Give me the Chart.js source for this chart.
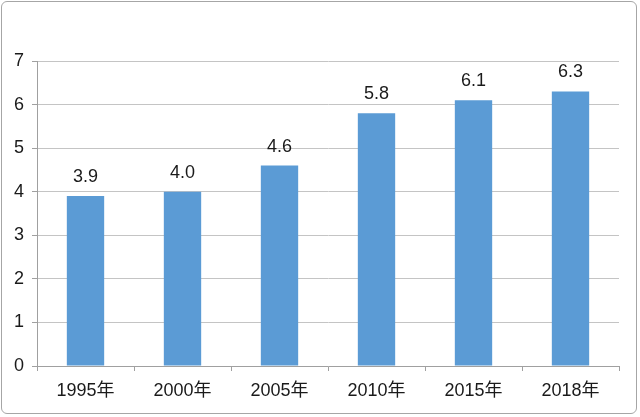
<!DOCTYPE html>
<html><head><meta charset="utf-8">
<script src="https://cdn.jsdelivr.net/npm/chart.js@4"></script>
<style>
html,body{margin:0;padding:0;background:#fff;}
#wrap{position:relative;width:640px;height:417px;}
#frame{position:absolute;left:1px;top:1px;width:636px;height:413px;border:1px solid #a6a6a6;border-radius:6px;pointer-events:none;box-sizing:border-box;}
</style></head><body>
<div id="wrap"><canvas id="c" width="640" height="417"></canvas><div id="frame"></div></div>
<script>
const categories = ['1995年','2000年','2005年','2010年','2015年','2018年'];
const values = [3.9, 4.0, 4.6, 5.8, 6.1, 6.3];
const yTicks = [0,1,2,3,4,5,6,7];

const FONT = '"Liberation Sans", Arial, "Noto Sans CJK SC", sans-serif';

const labelPlugin = {
  id: 'valLabels',
  afterDatasetsDraw(chart){
    const ctx = chart.ctx;
    const meta = chart.getDatasetMeta(0);
    ctx.save();
    ctx.font = '18px ' + FONT;
    ctx.fillStyle = '#1a1a1a';
    ctx.textAlign = 'center';
    ctx.textBaseline = 'middle';
    meta.data.forEach((bar, i) => {
      ctx.fillText(values[i].toFixed(1), bar.x, bar.y - 19);
    });
    ctx.restore();
  }
};

new Chart(document.getElementById('c'), {
  type: 'bar',
  data: {
    labels: categories,
    datasets: [{
      data: values,
      backgroundColor: '#5B9BD5',
      borderWidth: 0,
      categoryPercentage: 1,
      barPercentage: 0.385
    }]
  },
  options: {
    responsive: false,
    animation: false,
    events: [],
    layout: { padding: { top: 61, right: 21, bottom: 0, left: 0 } },
    plugins: { legend: { display: false }, tooltip: { enabled: false } },
    scales: {
      x: {
        grid: { display: true, drawOnChartArea: false, drawTicks: true, tickLength: 5, color: '#a0a0a0', offset: true },
        border: { display: true, color: '#a0a0a0', width: 1 },
        ticks: { color: '#1a1a1a', font: { family: FONT, size: 18 }, padding: 9, maxRotation: 0 },
        afterFit(s){ s.height = 51; }
      },
      y: {
        min: 0, max: 7,
        afterBuildTicks(s){ s.ticks = yTicks.map(v => ({ value: v })); },
        grid: { color: '#c4c4c4', tickColor: '#a0a0a0', tickLength: 5, drawTicks: true },
        border: { display: true, color: '#a0a0a0', width: 1 },
        ticks: { color: '#1a1a1a', font: { family: FONT, size: 18 }, padding: 8 },
        afterFit(s){ s.width = 37; }
      }
    }
  },
  plugins: [labelPlugin]
});
</script>
</body></html>
